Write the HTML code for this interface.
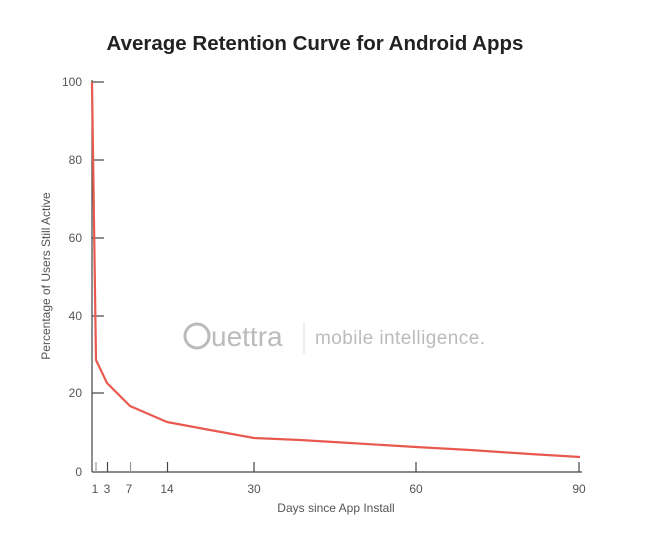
<!DOCTYPE html>
<html><head><style>
body{margin:0;background:#fff;}
svg{display:block;font-family:"Liberation Sans",sans-serif;}
</style></head><body>
<svg width="664" height="549" viewBox="0 0 664 549">
<rect width="664" height="549" fill="#fff"/>
<text x="315" y="50" text-anchor="middle" font-size="20.5" font-weight="bold" fill="#222">Average Retention Curve for Android Apps</text>
<g stroke="#444" stroke-width="1.2">
<line x1="92" y1="80" x2="92" y2="472"/>
<line x1="92" y1="472" x2="582" y2="472"/>
<line x1="92" y1="82" x2="104" y2="82"/>
<line x1="92" y1="160" x2="104" y2="160"/>
<line x1="92" y1="238" x2="104" y2="238"/>
<line x1="92" y1="316" x2="104" y2="316"/>
<line x1="92" y1="393" x2="104" y2="393"/>
<line x1="96" y1="462" x2="96" y2="472" stroke="#999"/>
<line x1="107.5" y1="462" x2="107.5" y2="472"/>
<line x1="130.5" y1="462" x2="130.5" y2="472" stroke="#999"/>
<line x1="167.5" y1="462" x2="167.5" y2="472"/>
<line x1="254" y1="462" x2="254" y2="472"/>
<line x1="416" y1="462" x2="416" y2="472"/>
<line x1="579" y1="462" x2="579" y2="472"/>
</g>
<g font-size="12" fill="#555" text-anchor="end">
<text x="82" y="86">100</text><text x="82" y="164">80</text><text x="82" y="242">60</text>
<text x="82" y="320">40</text><text x="82" y="397">20</text><text x="82" y="476">0</text>
</g>
<g font-size="12" fill="#555" text-anchor="middle">
<text x="95" y="493">1</text><text x="107" y="493">3</text><text x="129" y="493">7</text>
<text x="167" y="493">14</text><text x="254" y="493">30</text><text x="416" y="493">60</text><text x="579" y="493">90</text>
<text x="336" y="512">Days since App Install</text>
</g>
<text transform="translate(50,276) rotate(-90)" text-anchor="middle" font-size="12" fill="#555">Percentage of Users Still Active</text>
<g fill="#bbb">
<circle cx="197" cy="336" r="12" fill="none" stroke="#bbb" stroke-width="3"/>
<text x="211" y="346" font-size="28">uettra</text>
<line x1="304" y1="322" x2="304" y2="354" stroke="#ddd"/>
<text x="315" y="344" font-size="19" textLength="170">mobile intelligence.</text>
</g>
<polyline fill="none" stroke="#e85a4f" stroke-width="2.2" stroke-linejoin="round"
points="92,82 96,360 107,383 130,406 167,422 210,430 254,438 300,440 350,443 416,447 470,450 530,454 580,457"/>
</svg>
</body></html>
